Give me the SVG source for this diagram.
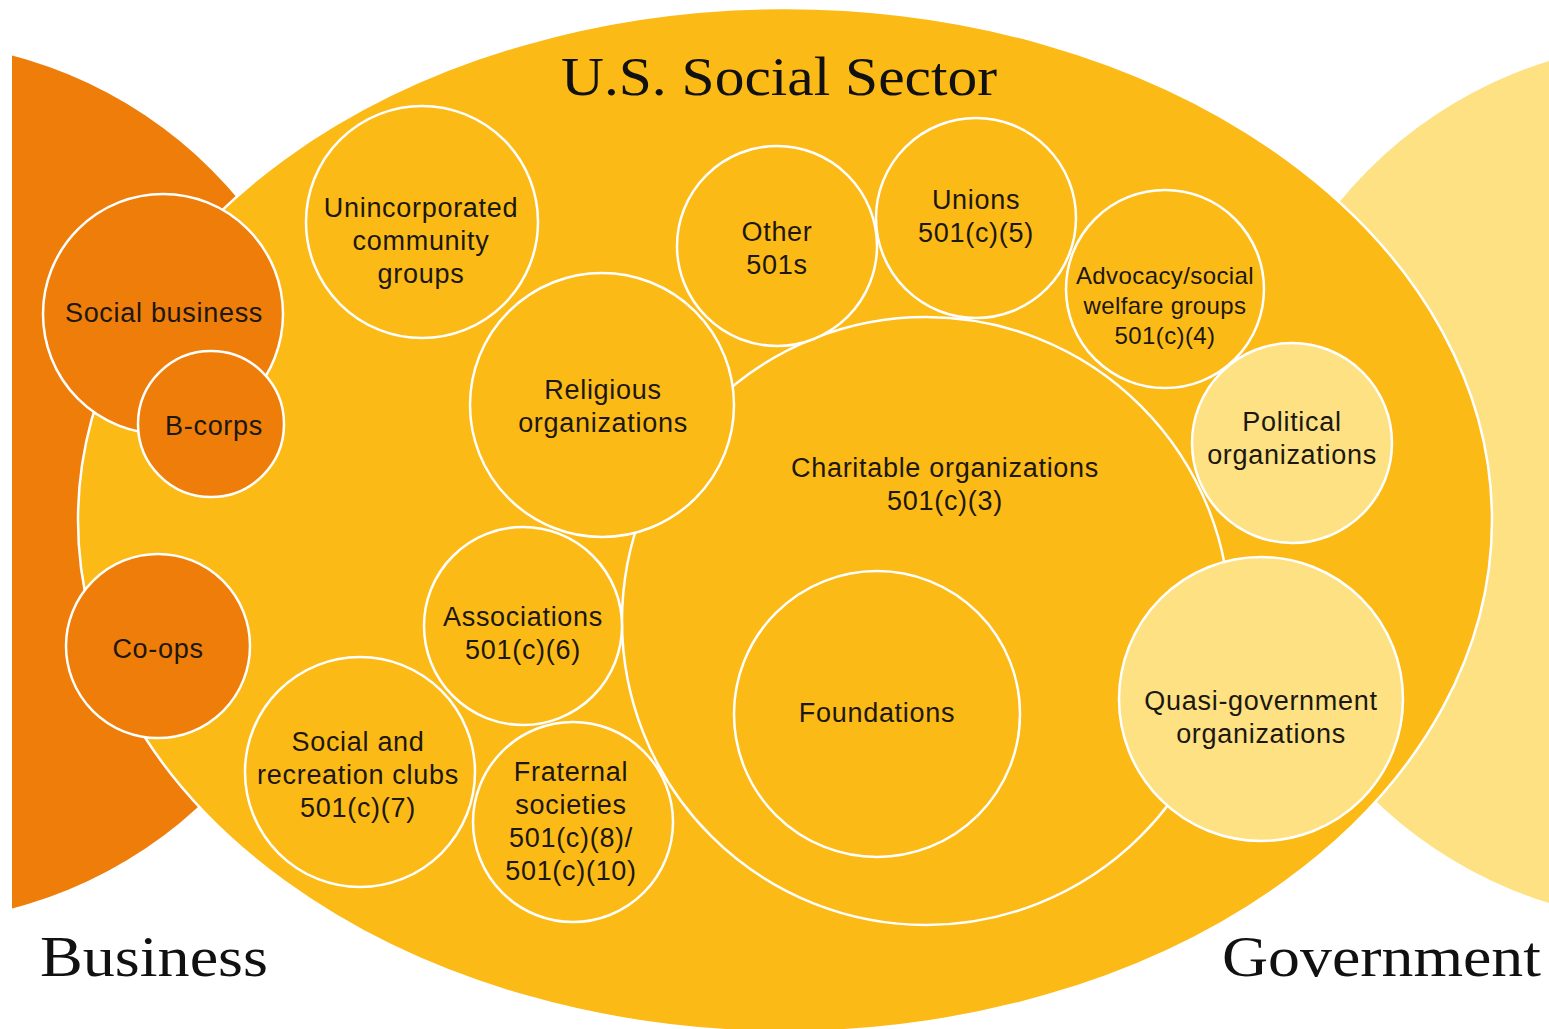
<svg xmlns="http://www.w3.org/2000/svg" width="1549" height="1029" viewBox="0 0 1549 1029">
<defs>
<clipPath id="leftClip"><rect x="12" y="0" width="800" height="1029"/></clipPath>
<style>
.sans{font-family:"Liberation Sans",Arial,sans-serif;font-size:27px;fill:#1c1710;text-anchor:middle;letter-spacing:0.7px}
.small{font-size:24px;letter-spacing:0.4px}
.serif{font-family:"Liberation Serif","Times New Roman",serif;fill:#111;}
.c{stroke:#fff;stroke-width:2.5}
.org{fill:#ee7d0a}
.yel{fill:#fbba16}
.lt{fill:#fde182}
</style>
</defs>
<rect width="1549" height="1029" fill="#fff"/>
<g id="business-area">
<circle cx="-100" cy="482" r="441" class="org" clip-path="url(#leftClip)"/>
</g>
<g id="government-area">
<circle cx="1680" cy="482" r="441" class="lt"/>
</g>
<g id="social-sector">
<ellipse cx="785" cy="520" rx="707" ry="512" class="yel c"/>
</g>
<g id="connectors"/>
<g id="charitable"><circle cx="926" cy="621" r="304" class="yel c"/>
<text class="sans" x="945" y="477">Charitable organizations</text>
<text class="sans" x="945" y="510">501(c)(3)</text></g>
<g id="foundations"><circle cx="877" cy="714" r="143" class="yel c"/>
<text class="sans" x="877" y="722">Foundations</text></g>
<g id="social-business"><circle cx="163" cy="314" r="120" class="org c"/>
<text class="sans" x="164" y="322">Social business</text></g>
<g id="b-corps"><circle cx="211" cy="424" r="73" class="org c"/>
<text class="sans" x="214" y="435">B-corps</text></g>
<g id="co-ops"><circle cx="158" cy="646" r="92" class="org c"/>
<text class="sans" x="158" y="658">Co-ops</text></g>
<g id="unincorporated"><circle cx="422" cy="222" r="116" class="yel c"/>
<text class="sans" x="421" y="217">Unincorporated</text>
<text class="sans" x="421" y="250">community</text>
<text class="sans" x="421" y="283">groups</text></g>
<g id="religious"><circle cx="602" cy="405" r="132" class="yel c"/>
<text class="sans" x="603" y="399">Religious</text>
<text class="sans" x="603" y="432">organizations</text></g>
<g id="other-501s"><circle cx="777" cy="246" r="100" class="yel c"/>
<text class="sans" x="777" y="241">Other</text>
<text class="sans" x="777" y="274">501s</text></g>
<g id="unions"><circle cx="976" cy="218" r="100" class="yel c"/>
<text class="sans" x="976" y="209">Unions</text>
<text class="sans" x="976" y="242">501(c)(5)</text></g>
<g id="advocacy"><circle cx="1165" cy="289" r="99" class="yel c"/>
<text class="sans small" x="1165" y="284">Advocacy/social</text>
<text class="sans small" x="1165" y="314">welfare groups</text>
<text class="sans small" x="1165" y="344">501(c)(4)</text></g>
<g id="political"><circle cx="1292" cy="443" r="100" class="lt c"/>
<text class="sans" x="1292" y="431">Political</text>
<text class="sans" x="1292" y="464">organizations</text></g>
<g id="quasi-government"><circle cx="1261" cy="699" r="142" class="lt c"/>
<text class="sans" x="1261" y="710">Quasi-government</text>
<text class="sans" x="1261" y="743">organizations</text></g>
<g id="associations"><circle cx="523" cy="626" r="99" class="yel c"/>
<text class="sans" x="523" y="626">Associations</text>
<text class="sans" x="523" y="659">501(c)(6)</text></g>
<g id="social-recreation"><circle cx="360" cy="772" r="115" class="yel c"/>
<text class="sans" x="358" y="751">Social and</text>
<text class="sans" x="358" y="784">recreation clubs</text>
<text class="sans" x="358" y="817">501(c)(7)</text></g>
<g id="fraternal"><circle cx="573" cy="822" r="100" class="yel c"/>
<text class="sans" x="571" y="781">Fraternal</text>
<text class="sans" x="571" y="814">societies</text>
<text class="sans" x="571" y="847">501(c)(8)/</text>
<text class="sans" x="571" y="880">501(c)(10)</text></g>
<g id="labels">
<text class="serif" x="561" y="95" font-size="54" textLength="436" lengthAdjust="spacingAndGlyphs">U.S. Social Sector</text>
<text class="serif" x="40" y="976" font-size="57" textLength="228" lengthAdjust="spacingAndGlyphs">Business</text>
<text class="serif" x="1222" y="976" font-size="57" textLength="319" lengthAdjust="spacingAndGlyphs">Government</text>
</g>
</svg>
